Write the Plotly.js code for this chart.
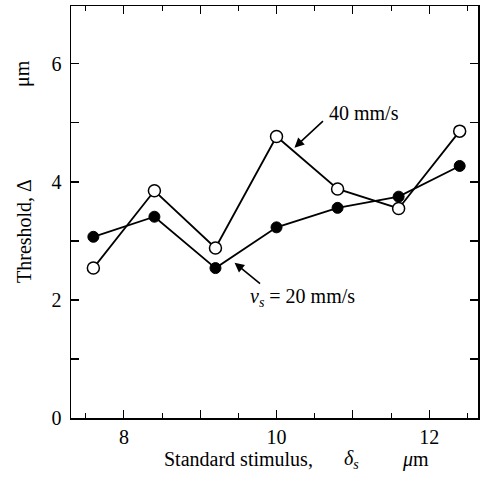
<!DOCTYPE html>
<html>
<head>
<meta charset="utf-8">
<script src="https://cdn.plot.ly/plotly-3.0.1.min.js"></script>
<style>html,body{margin:0;padding:0;overflow:hidden;background:#fff}</style>
</head>
<body>
<div id="chart" style="width:480px;height:483px"></div>
<script>
const stimulus = [7.6, 8.4, 9.2, 10.0, 10.8, 11.6, 12.4];
const threshold20 = [3.07, 3.41, 2.54, 3.23, 3.56, 3.75, 4.27];
const threshold40 = [2.54, 3.85, 2.88, 4.77, 3.88, 3.55, 4.86];
const xTickVals = [8, 10, 12];
const xUnlabeledTicks = [9, 11];
const yTickVals = [0, 2, 4, 6];

const font = {family: 'Liberation Serif', color: '#000', size: 20};
const xRange = [7.307, 12.64];

function px(x) { return (x - 71) / 407; }
function py(y) { return (418 - y) / 412; }

const traces = [
  {x: stimulus, y: threshold40, mode: 'lines+markers', type: 'scatter',
   line: {color: '#000', width: 1.8},
   marker: {size: 12, color: '#fff', line: {color: '#000', width: 1.5}}},
  {x: stimulus, y: threshold20, mode: 'lines+markers', type: 'scatter',
   line: {color: '#000', width: 1.8},
   marker: {size: 11, color: '#000', line: {color: '#000', width: 1}}},
  {x: [xUnlabeledTicks[0]], y: [threshold20[0]], xaxis: 'x2', mode: 'markers', type: 'scatter',
   marker: {opacity: 0}, hoverinfo: 'skip'}
];

const layout = {
  width: 480, height: 483,
  margin: {l: 71, r: 2, t: 6, b: 65},
  showlegend: false,
  paper_bgcolor: '#fff', plot_bgcolor: '#fff',
  font: font,
  xaxis: {
    range: xRange, tickvals: xTickVals,
    ticks: 'inside', ticklen: 8, tickwidth: 1.2, tickcolor: '#000',
    minor: {dtick: 0.5, tick0: 0, ticks: 'inside', ticklen: 5, tickwidth: 1, tickcolor: '#000'},
    showline: true, linecolor: '#000', linewidth: 1.5, mirror: 'ticks',
    showgrid: false, zeroline: false, tickfont: font
  },
  xaxis2: {
    overlaying: 'x', side: 'bottom', range: xRange, tickvals: xUnlabeledTicks,
    showticklabels: false, ticks: 'inside', ticklen: 8, tickwidth: 1.2, tickcolor: '#000',
    showline: false, showgrid: false, zeroline: false, mirror: 'ticks'
  },
  yaxis: {
    range: [0, 6.98], tickvals: yTickVals,
    ticks: 'inside', ticklen: 8, tickwidth: 1.2, tickcolor: '#000',
    minor: {dtick: 1, tick0: 0, ticks: 'inside', ticklen: 8, tickwidth: 1.2, tickcolor: '#000'},
    showline: true, linecolor: '#000', linewidth: 1.5, mirror: 'ticks',
    showgrid: false, zeroline: false, tickfont: font, ticklabelstandoff: 4
  },
  annotations: [
    {text: '40 mm/s', xref: 'paper', yref: 'paper', x: px(327), y: py(113), xanchor: 'left', yanchor: 'middle', showarrow: false, font: font},
    {x: 10.235, y: 4.58, ax: 30, ay: -28, text: '', showarrow: true, arrowhead: 2, arrowsize: 1.2, arrowwidth: 1.6, arrowcolor: '#000', xref: 'x', yref: 'y'},
    {text: '<i>v</i><sub><i>s</i></sub> = 20 mm/s', xref: 'paper', yref: 'paper', x: px(248), y: py(297), xanchor: 'left', yanchor: 'middle', showarrow: false, font: font},
    {x: 9.45, y: 2.63, ax: 27, ay: 22, text: '', showarrow: true, arrowhead: 2, arrowsize: 1.2, arrowwidth: 1.6, arrowcolor: '#000', xref: 'x', yref: 'y'},
    {text: 'Standard stimulus,', xref: 'paper', yref: 'paper', x: px(162), y: py(459), xanchor: 'left', yanchor: 'middle', showarrow: false, font: font},
    {text: '<i>δ</i><sub><i>s</i></sub>', xref: 'paper', yref: 'paper', x: px(342), y: py(459), xanchor: 'left', yanchor: 'middle', showarrow: false, font: font},
    {text: '<i>μ</i>m', xref: 'paper', yref: 'paper', x: px(400), y: py(459), xanchor: 'left', yanchor: 'middle', showarrow: false, font: font},
    {text: 'Threshold, Δ', xref: 'paper', yref: 'paper', x: px(24), y: py(231), xanchor: 'center', yanchor: 'middle', textangle: -90, showarrow: false, font: font},
    {text: 'μm', xref: 'paper', yref: 'paper', x: px(22), y: py(74), xanchor: 'center', yanchor: 'middle', textangle: -90, showarrow: false, font: font}
  ]
};

Plotly.newPlot('chart', traces, layout, {displayModeBar: false, staticPlot: true});
</script>
</body>
</html>
